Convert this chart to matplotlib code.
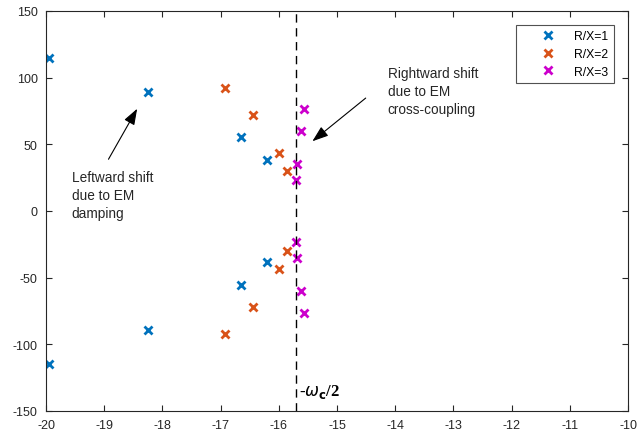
import numpy as np
import matplotlib.pyplot as plt

plt.rcParams['font.family'] = ['Liberation Sans', 'DejaVu Sans']
plt.rcParams['axes.unicode_minus'] = False

# eigenvalues (upper half; lower half are conjugates)
re1 = [-19.95, -18.24, -16.65, -16.20]
im1 = [114.5, 89.5, 55.3, 38.3]
re2 = [-16.92, -16.45, -15.99, -15.86]
im2 = [92.0, 72.0, 43.3, 29.8]
re3 = [-15.57, -15.62, -15.68, -15.70]
im3 = [76.5, 60.2, 35.2, 23.2]
wc_half = -15.7

fig = plt.figure(figsize=(6.38, 4.35), dpi=100)
ax = fig.add_axes([46/638, 1 - 412/435, 582/638, 400/435])

series = [(re1, im1, '#0072BD', 'R/X=1'),
          (re2, im2, '#D95319', 'R/X=2'),
          (re3, im3, '#CC00CC', 'R/X=3')]
for re, im, c, lab in series:
    xs = re + re
    ys = im + [-v for v in im]
    ax.plot(xs, ys, 'x', color=c, ms=6, mew=2, ls='none', label=lab)

ax.axvline(wc_half, color='black', ls=(0, (6, 4)), lw=1)

ax.set_xlim(-20, -10)
ax.set_ylim(-150, 150)
ax.set_xticks(np.arange(-20, -9, 1))
ax.set_yticks(np.arange(-150, 151, 50))
ax.tick_params(direction='in', top=True, right=True, labelsize=9, colors='#262626',
               length=4, pad=6)
for s in ax.spines.values():
    s.set_color('#262626')
    s.set_linewidth(0.8)

arrow = dict(arrowstyle='-|>,head_length=0.7,head_width=0.25', color='black', lw=0.8,
             mutation_scale=14)

# leftward shift
ax.annotate('', xy=(-18.41, 78.5), xytext=(-18.95, 37), arrowprops=arrow)
ax.text(-19.56, 12, 'Leftward shift\ndue to EM\ndamping', fontsize=9.8, va='center',
        color='#262626', linespacing=1.35)

# rightward shift
ax.annotate('', xy=(-15.46, 51), xytext=(-14.47, 86), arrowprops=arrow)
ax.text(-14.13, 90, 'Rightward shift\ndue to EM\ncross-coupling', fontsize=9.8, va='center',
        color='#262626', linespacing=1.35, ha='left')

ax.text(-15.66, -135, r'-$\omega_{\mathbf{c}}$/2', fontsize=12, fontweight='bold',
        family='Liberation Serif', va='center')

leg = ax.legend(loc='upper right', bbox_to_anchor=(0.976, 0.965), borderaxespad=0,
                fontsize=8.8, fancybox=False, edgecolor='#262626', handlelength=4.2,
                handletextpad=0.1, borderpad=0.45, labelspacing=0.45)
leg.get_frame().set_linewidth(0.8)

fig.savefig('out.png', dpi=100)
